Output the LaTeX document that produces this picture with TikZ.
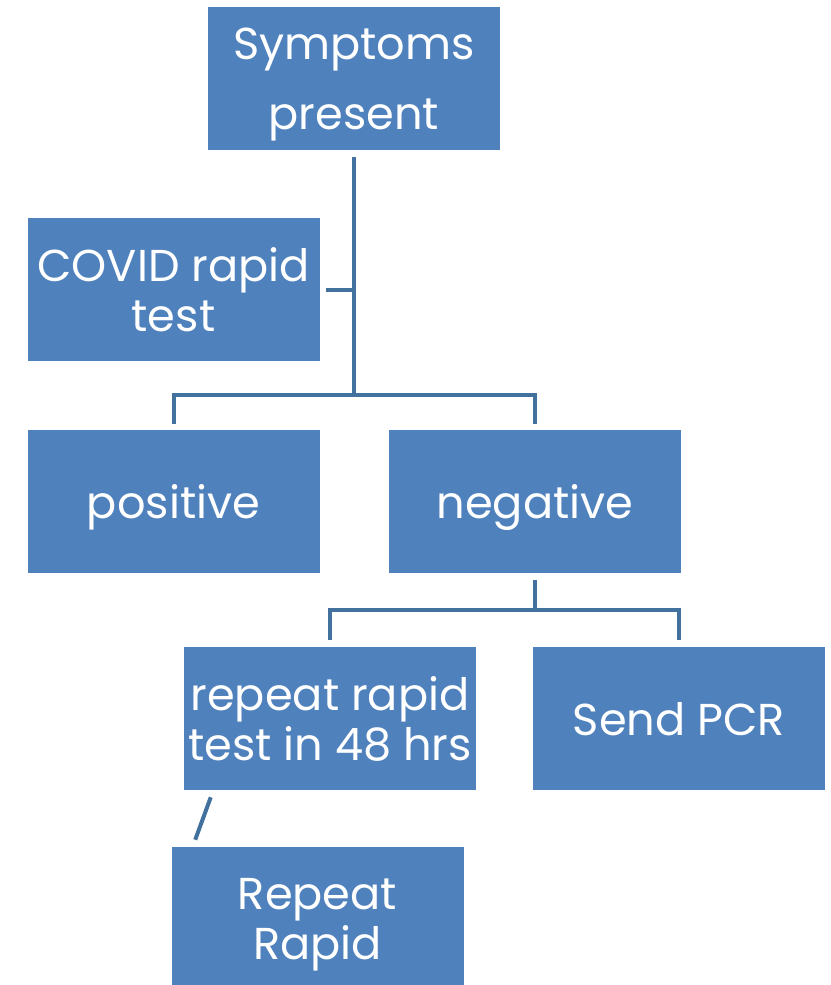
\documentclass[tikz,border=0pt]{standalone}
\usepackage{fontspec}
\setmainfont{Poppins}
\definecolor{boxblue}{HTML}{4F81BD}
\definecolor{lineblue}{HTML}{41719C}

\begin{document}
\begin{tikzpicture}[x=0.75pt, y=-0.75pt,
    box/.style={fill=boxblue, text=white, inner sep=0pt, align=center,
        minimum width=219pt, minimum height=107.25pt, text depth=0pt,
        font=\fontsize{33.5}{37.5}\selectfont},
    link/.style={draw=lineblue, line width=3pt}]
                \useasboundingbox (0, 0) rectangle (831, 985);
                \node[box] (sym) at (354, 78.5) {Symptoms\\[15pt]present};
                \node[box] (covid) at (173.5, 289.5) {COVID rapid\\test};
                \node[box] (pos) at (173.5, 501.5) {positive};
                \node[box] (neg) at (535, 501.5) {negative};
                \node[box] (rep) at (330, 718.5) {repeat rapid\\test in 48 hrs};
                \node[box] (pcr) at (679, 718.5) {Send PCR};
                \node[box] (again) at (317.5, 918.5) {Repeat\\Rapid};
                \coordinate (split1) at (354, 395);
                \coordinate (split2) at (535, 610);
                \draw[link] ([yshift=-5pt]sym.south) -- (split1);
                \draw[link] ([xshift=5pt]covid.east) -- (covid.east -| split1);
                \draw[link] ([yshift=4.5pt]pos.north) |- (split1) -| ([yshift=4.5pt]neg.north);
                \draw[link] ([yshift=-5pt]neg.south) -- (split2);
                \draw[link] ([yshift=5pt]rep.north) |- (split2) -| ([yshift=5pt]pcr.north);
                \draw[link] ([shift={(27, 7)}]rep.south west) -- ([shift={(24, -7)}]again.north west);
            \end{tikzpicture}
\end{document}
